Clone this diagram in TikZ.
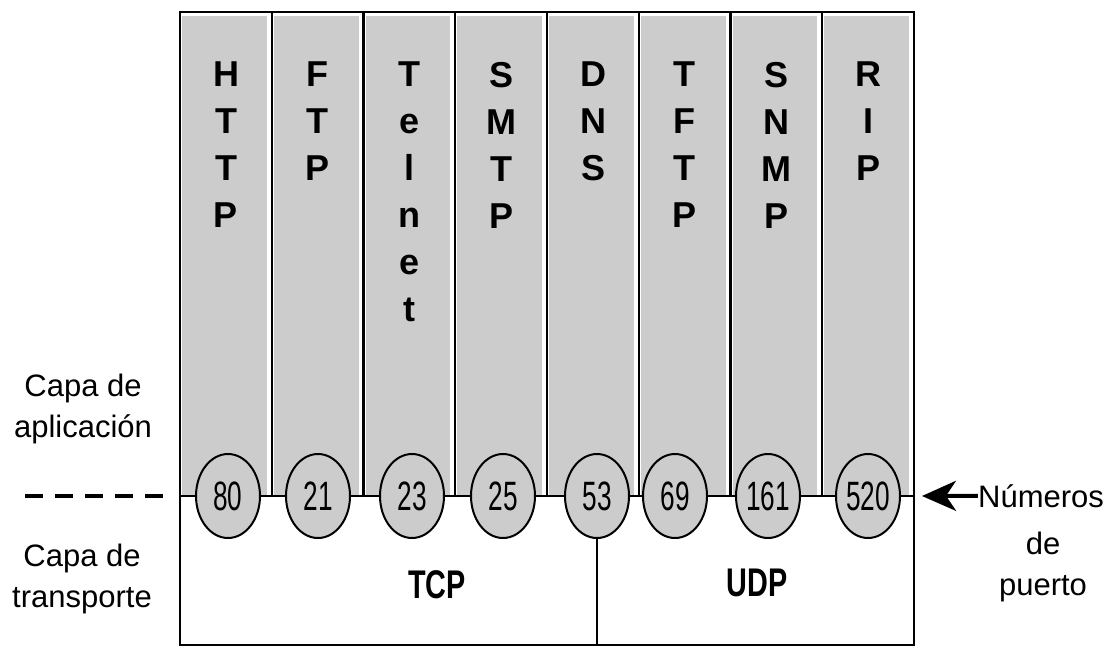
\documentclass[tikz,border=0pt]{standalone}
\usepackage{fontspec}
\setmainfont{Liberation Sans}
\usetikzlibrary{shapes.geometric,arrows.meta,positioning}
\newcommand{\angosto}[2]{\scalebox{#1}[1]{#2}}

\begin{document}
\begin{tikzpicture}[x=1pt,y=-1pt,
  puerto/.style={ellipse,draw,line width=2pt,fill=black!20,minimum width=64pt,
    minimum height=84pt,inner sep=0pt,font=\fontsize{41}{41}\selectfont},
  proto/.style={anchor=north,inner sep=0pt,align=center,
    font=\fontsize{36}{47}\selectfont\bfseries},
  capa/.style={align=center,inner sep=0pt,font=\fontsize{31}{41}\selectfont},
  linea/.style={line width=2.4pt}]
  \useasboundingbox (0,0) rectangle (1107,646);
  \foreach \i in {0,...,7}
    \fill[black!20] (182+91.75*\i,16) rectangle (175+91.75*\i+91.75,496);
  \draw[linea] (180,12) rectangle (914,645);
  \foreach \i in {1,...,7}
    \draw[linea] (180+91.75*\i,12) -- (180+91.75*\i,496);
  \draw[linea] (180,496) -- (914,496);
  \foreach \txt [count=\i from 0] in {{H\\T\\T\\P},{F\\T\\P},{T\\e\\l\\n\\e\\t},
      {S\\M\\T\\P},{D\\N\\S},{T\\F\\T\\P},{S\\N\\M\\P},{R\\I\\P}}
    \node[proto] (col\i) at (226+91.75*\i,62) {\txt};
  \foreach \px/\num in {228/80,318/21,412/23,503/25,597/53,675/69,768/161,868/520}
    \node[puerto] (p\num) at (\px,496) {\angosto{0.64}{\num}};
  \coordinate (fondo) at (597,645);
  \draw[linea] (p53.south) -- (fondo);
  \node[font=\fontsize{40}{40}\selectfont\bfseries] (tcp) at (437,585) {\angosto{0.72}{TCP}};
  \node[font=\fontsize{40}{40}\selectfont\bfseries] (udp) at (757,583) {\angosto{0.72}{UDP}};
  \node[capa,anchor=base] (aplic) at (83,437) {Capa de\\aplicación};
  \node[capa,anchor=base] (transp) at (82,607) {Capa de\\transporte};
  \draw[line width=4pt,dash pattern=on 18pt off 12pt] (25,496) -- (165,496);
  \node[capa,anchor=base] (numeros) at (1041,507) {Números};
  \node[capa,anchor=base] (dept) at (1043,595) {de\\puerto};
  \coordinate (tip) at (922,496);
  \draw[line width=4pt,-{Stealth[length=34pt,width=30pt,inset=10pt]}] (numeros.west) -- (tip);
\end{tikzpicture}
\end{document}
